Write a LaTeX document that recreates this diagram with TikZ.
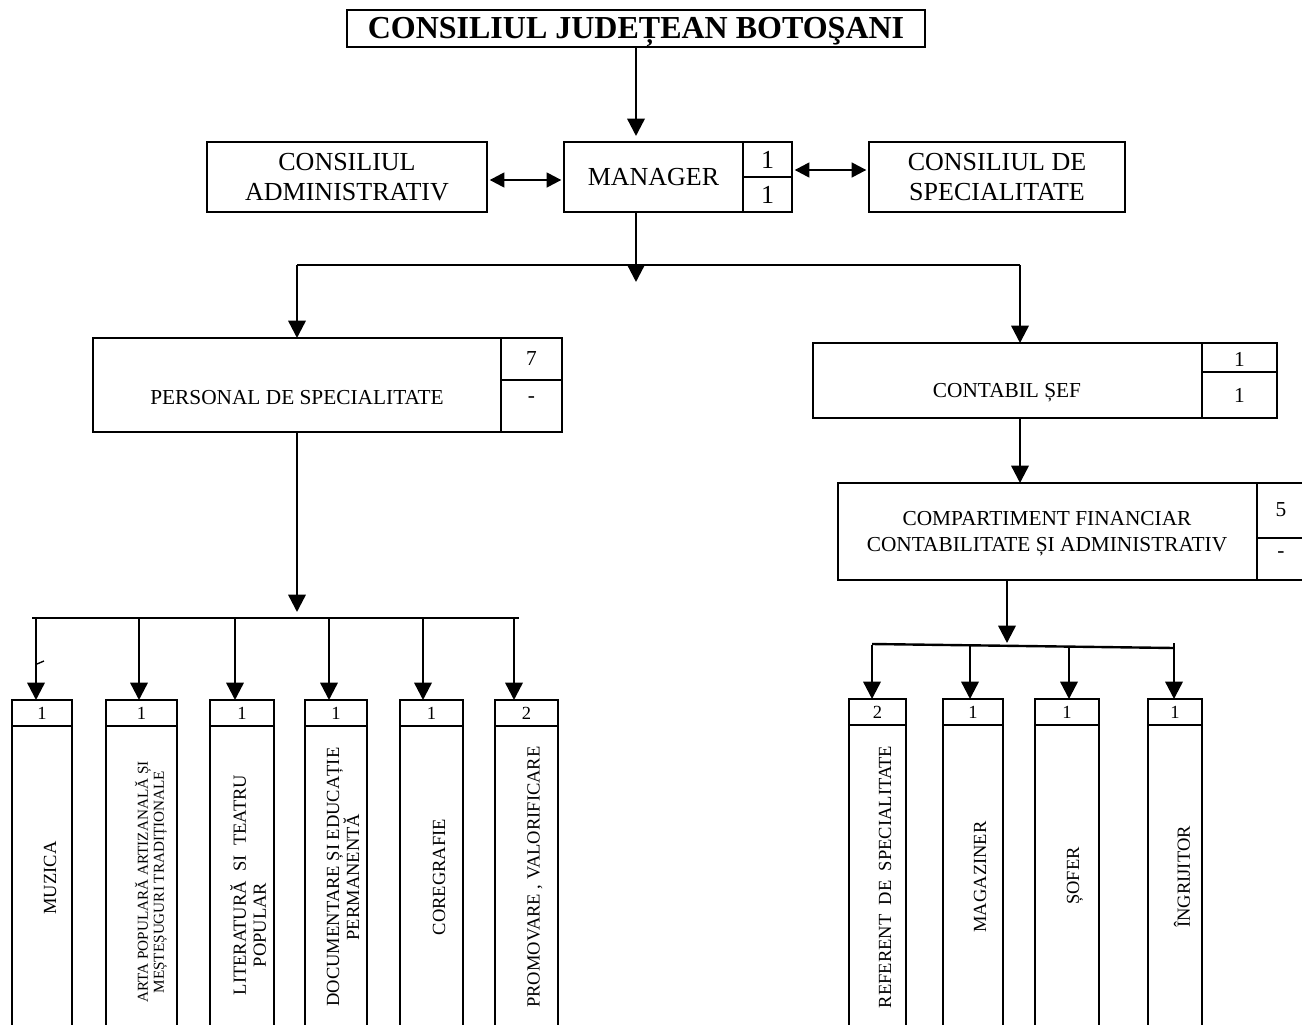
\documentclass[tikz,border=0pt]{standalone}
\usepackage{fontspec}
\setmainfont{Liberation Serif}
\usetikzlibrary{arrows.meta}
\tikzset{
  ln/.style={line width=1.8pt},
  box/.style={draw, line width=1.8pt, inner sep=0pt, outer sep=0pt, anchor=north west},
  arr/.style={line width=1.8pt, -{Triangle[length=13pt,width=13pt]}},
  darr/.style={line width=1.8pt, {Triangle[length=11pt,width=11pt]}-{Triangle[length=11pt,width=11pt]}, shorten <=2pt, shorten >=2pt},
  tA/.style={inner sep=0pt, align=center, font=\bfseries\fontsize{24}{28}\selectfont},
  tB/.style={inner sep=0pt, align=center, font=\fontsize{19.5}{23}\selectfont},
  tC/.style={inner sep=0pt, align=center, font=\fontsize{16}{19.5}\selectfont},
  tD/.style={inner sep=0pt, align=center, font=\fontsize{13.9}{15}\selectfont},
  tE/.style={inner sep=0pt, align=center, font=\fontsize{11.4}{12}\selectfont},
  vert/.style={rotate=90}
}
\newcommand\mkbox[5]{\node[box, minimum width={(#4-#2)*0.75pt}, minimum height={(#5-#3)*0.75pt}] (#1) at (#2,#3) {};}
\begin{document}
\begin{tikzpicture}[x=0.75pt,y=-0.75pt]
\useasboundingbox (0,0) rectangle (1302,1024);
\clip (0,0) rectangle (1302,1024);

% title
\mkbox{title}{347}{10}{925}{47}
\node[tA] (titleT) at ([yshift=-2.5pt]title.center) {CONSILIUL JUDEȚEAN BOTOŞANI};

% first row
\mkbox{adm}{207}{142}{487}{212}
\node[tB] (admT) at (adm.center) {CONSILIUL\\ADMINISTRATIV};
\mkbox{mgr}{564}{142}{743}{212}
\mkbox{mgrA}{743}{142}{792}{177}
\mkbox{mgrB}{743}{177}{792}{212}
\node[tB] (mgrT) at (mgr.center) {MANAGER};
\node[tB] (mgrAT) at (mgrA.center) {1};
\node[tB] (mgrBT) at (mgrB.center) {1};
\mkbox{spec}{869}{142}{1125}{212}
\node[tB] (specT) at (spec.center) {CONSILIUL DE\\SPECIALITATE};

\coordinate (mgrIn) at (636,136);
\draw[arr] (title.south) -- (mgrIn);
\draw[darr] ([yshift=-2.25pt]adm.east) -- ([yshift=-2.25pt]adm.east -| mgr.west);
\draw[darr] ([yshift=5.25pt]mgrA.south east) -- ([yshift=5.25pt]mgrA.south east -| spec.west);

% second level
\coordinate (mj) at (636,282);
\coordinate (jl) at (297,265);
\coordinate (jr) at (1020,265);
\draw[arr] (title.south |- mgr.south) -- (mj);
\draw[ln] (jl) -- (jr);

\mkbox{pers}{93}{338}{501}{432}
\mkbox{persA}{501}{338}{562}{380}
\mkbox{persB}{501}{380}{562}{432}
\node[tC] (persT) at (297,398) {PERSONAL DE SPECIALITATE};
\node[tC] (persAT) at (531.5,359) {7};
\node[tC] (persBT) at (531.5,400) {-};
\draw[arr] (jl) -- (pers.north);

\mkbox{cont}{813}{343}{1202}{418}
\mkbox{contA}{1202}{343}{1277}{372}
\mkbox{contB}{1202}{372}{1277}{418}
\node[tC] (contT) at (1007,393) {CONTABIL ȘEF};
\node[tC] (contAT) at (1239.5,359) {1};
\node[tC] (contBT) at (1239.5,395) {1};
\draw[arr] (jr) -- (jr |- cont.north);

\mkbox{comp}{838}{483}{1257}{580}
\mkbox{compA}{1257}{483}{1312}{538}
\mkbox{compB}{1257}{538}{1312}{580}
\node[tC] (compT) at (1047,534) {COMPARTIMENT FINANCIAR\\CONTABILITATE ȘI ADMINISTRATIV};
\node[tC] (compAT) at (1281,510) {5};
\node[tC] (compBT) at (1281,555) {-};
\draw[arr] (jr |- cont.south) -- (jr |- comp.north);

% left bottom
\coordinate (pl) at (297,612);
\draw[arr] (pers.south) -- (pl);
\draw[ln] (32,618) -- (519,618);
\coordinate (hl1) at (36,618);
\coordinate (hl2) at (139,618);
\coordinate (hl3) at (235,618);
\coordinate (hl4) at (329,618);
\coordinate (hl5) at (423,618);
\coordinate (hl6) at (514,618);

\mkbox{bL1}{12}{700}{72}{726}   \mkbox{bL1b}{12}{726}{72}{1040}
\mkbox{bL2}{106}{700}{177}{726} \mkbox{bL2b}{106}{726}{177}{1040}
\mkbox{bL3}{210}{700}{274}{726} \mkbox{bL3b}{210}{726}{274}{1040}
\mkbox{bL4}{305}{700}{367}{726} \mkbox{bL4b}{305}{726}{367}{1040}
\mkbox{bL5}{400}{700}{463}{726} \mkbox{bL5b}{400}{726}{463}{1040}
\mkbox{bL6}{495}{700}{558}{726} \mkbox{bL6b}{495}{726}{558}{1040}

\foreach \i in {1,...,6} {\draw[arr] (hl\i) -- (hl\i |- bL\i.north);}
\draw[line width=1pt] (37,664) -- (44,661);

\node[tD] (nL1) at (bL1.center) {1};
\node[tD] (nL2) at (bL2.center) {1};
\node[tD] (nL3) at (bL3.center) {1};
\node[tD] (nL4) at (bL4.center) {1};
\node[tD] (nL5) at (bL5.center) {1};
\node[tD] (nL6) at (bL6.center) {2};

\node[tD,vert] (lL1) at (50,878) {MUZICA};
\node[tE,vert] (lL2) at (151,882) {ARTA POPULARĂ ARTIZANALĂ ȘI\\MEȘTEȘUGURI TRADIȚIONALE};
\node[tD,vert] (lL3) at (248,885) {LITERATURĂ\ \ SI\ \ TEATRU\\POPULAR\hspace*{60pt}};
\node[tD,vert] (lL4) at (343,877) {DOCUMENTARE ȘI EDUCAȚIE\\PERMANENTĂ};
\node[tD,vert] (lL5) at (439,877) {COREGRAFIE};
\node[tD,vert] (lL6) at (535,877) {PROMOVARE , VALORIFICARE};

% right bottom
\coordinate (pr) at (1007,643);
\draw[arr] (comp.south -| pr) -- (pr);
\draw[ln] (872,644) -- (1174,648);
\coordinate (hr1) at (872,645);
\coordinate (hr2) at (970,646);
\coordinate (hr3) at (1069,647);
\coordinate (hr4) at (1174,643);

\mkbox{bR1}{849}{699}{906}{725}   \mkbox{bR1b}{849}{725}{906}{1040}
\mkbox{bR2}{943}{699}{1003}{725}  \mkbox{bR2b}{943}{725}{1003}{1040}
\mkbox{bR3}{1035}{699}{1099}{725} \mkbox{bR3b}{1035}{725}{1099}{1040}
\mkbox{bR4}{1148}{699}{1202}{725} \mkbox{bR4b}{1148}{725}{1202}{1040}

\foreach \i in {1,...,4} {\draw[arr] (hr\i) -- (hr\i |- bR\i.north);}

\node[tD] (nR1) at (bR1.center) {2};
\node[tD] (nR2) at (bR2.center) {1};
\node[tD] (nR3) at (bR3.center) {1};
\node[tD] (nR4) at (bR4.center) {1};

\node[tD,vert] (lR1) at (885,877) {REFERENT\ \ DE\ \ SPECIALITATE};
\node[tD,vert] (lR2) at (980,877) {MAGAZINER};
\node[tD,vert] (lR3) at (1075,876) {ȘOFER};
\node[tD,vert] (lR4) at (1182,877) {ÎNGRIJITOR};
\end{tikzpicture}
\end{document}
